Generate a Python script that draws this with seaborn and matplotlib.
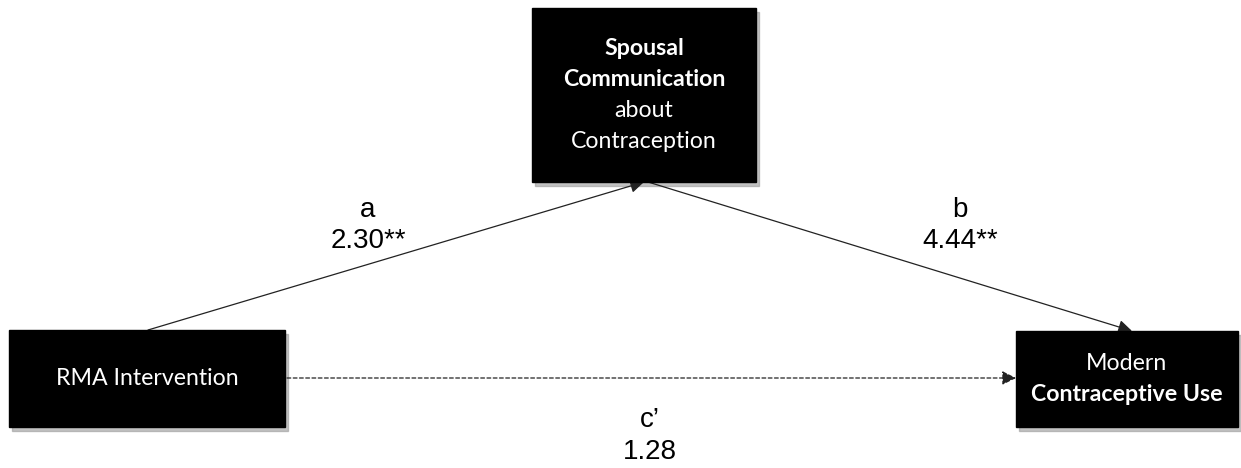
import matplotlib
matplotlib.use("Agg")
import matplotlib.pyplot as plt
import seaborn as sns
from matplotlib.patches import Rectangle, FancyArrowPatch

# node labels (each a list of (text, weight) lines)
node_names = ["RMA", "Spousal", "Modern"]
node_lines = [
    [("RMA Intervention", "normal")],
    [("Spousal", "bold"), ("Communication", "bold"), ("about", "normal"), ("Contraception", "normal")],
    [("Modern", "normal"), ("Contraceptive Use", "bold")],
]
path_names = ["a", "b", "c\u2019"]
path_coefs = ["2.30**", "4.44**", "1.28"]

sns.set_theme(style="white")
plt.rcParams["font.family"] = ["Lato", "DejaVu Sans"]

fig = plt.figure(figsize=(12.41, 4.68), dpi=100)
ax = fig.add_axes([0, 0, 1, 1])
ax.set_xlim(0, 1241)
ax.set_ylim(468, 0)
ax.axis("off")

# box geometry in pixel space: x0, y0, x1, y1
boxes = {
    "RMA": (9, 330, 285, 427),
    "Spousal": (532, 8, 756, 182),
    "Modern": (1016, 331, 1238, 427),
}

for name, lines in zip(node_names, node_lines):
    x0, y0, x1, y1 = boxes[name]
    ax.add_patch(Rectangle((x0 + 3, y0 + 4), x1 - x0, y1 - y0, color="#9a9a9a", alpha=0.6, zorder=1))
    ax.add_patch(Rectangle((x0, y0), x1 - x0, y1 - y0, color="black", zorder=2))
    cx, cy = (x0 + x1) / 2, (y0 + y1) / 2
    step = 31
    start = cy - step * (len(lines) - 1) / 2
    for i, (txt, w) in enumerate(lines):
        ax.text(cx, start + i * step, txt, color="white", fontsize=16.7, fontweight=w,
                ha="center", va="center", zorder=3)

# paths
arrow_kw = dict(arrowstyle="-|>,head_length=0.6,head_width=0.3", color="#222222", lw=0.9,
                mutation_scale=14, zorder=1.5, shrinkA=0, shrinkB=0)
ax.add_patch(FancyArrowPatch((148, 330), (644, 182), **arrow_kw))
ax.add_patch(FancyArrowPatch((648, 182), (1132, 331), **arrow_kw))
ax.add_patch(FancyArrowPatch((287, 378), (1016, 378), linestyle=(0, (3, 2)), **arrow_kw))

label_pos = [(368, 210, 241), (960, 210, 241), (650, 420, 452)]
for (x, y1, y2), name, coef in zip(label_pos, path_names, path_coefs):
    ax.text(x, y1, name, fontsize=20, family=["Liberation Sans"], ha="center", va="center", color="black")
    ax.text(x, y2, coef, fontsize=20, family=["Liberation Sans"], ha="center", va="center", color="black")

fig.savefig("out.png", dpi=100, facecolor="white")
